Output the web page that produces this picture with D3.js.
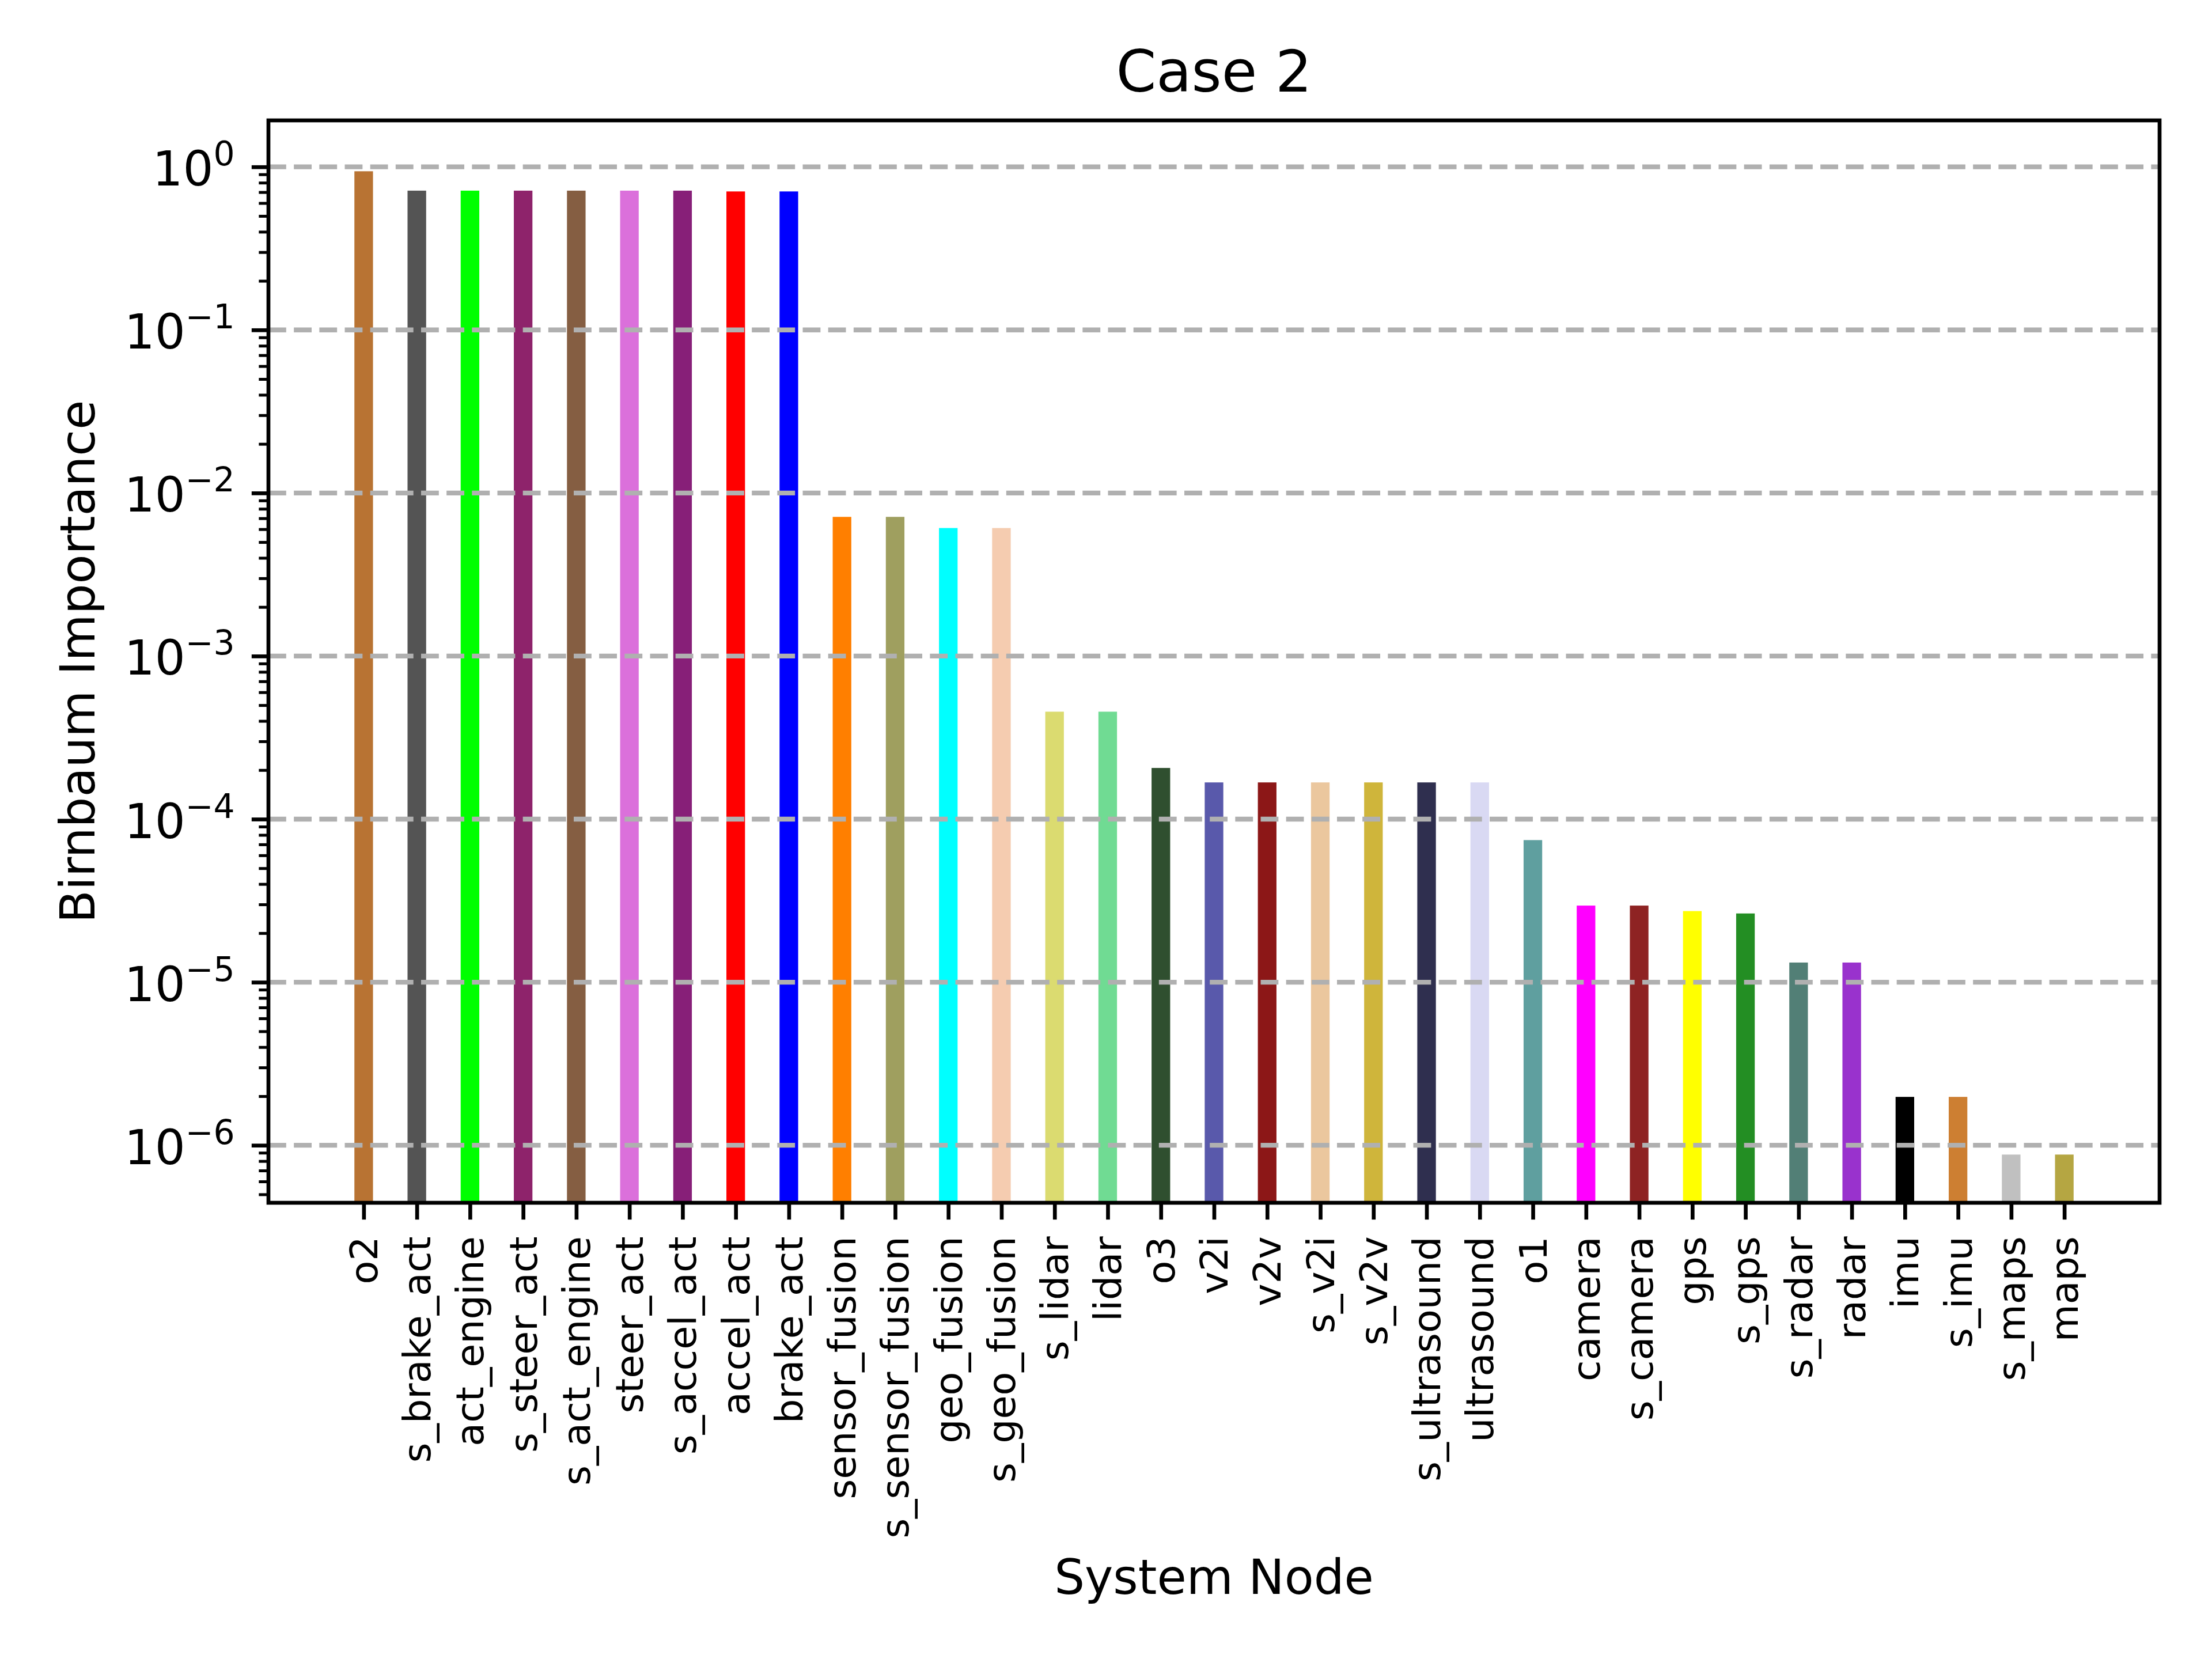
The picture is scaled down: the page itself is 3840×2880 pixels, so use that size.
<!DOCTYPE html>
<html>
<head>
<meta charset="utf-8">
<script src="https://cdn.jsdelivr.net/npm/d3@7"></script>
<style>
  body { margin: 0; background: #fff; }
  text { font-family: "DejaVu Sans", sans-serif; fill: #000; }
</style>
</head>
<body>
<div id="chart"></div>
<script>
// Data
const nodes = ["o2", "s_brake_act", "act_engine", "s_steer_act", "s_act_engine", "steer_act",
  "s_accel_act", "accel_act", "brake_act", "sensor_fusion", "s_sensor_fusion", "geo_fusion",
  "s_geo_fusion", "s_lidar", "lidar", "o3", "v2i", "v2v", "s_v2i", "s_v2v", "s_ultrasound",
  "ultrasound", "o1", "camera", "s_camera", "gps", "s_gps", "s_radar", "radar", "imu", "s_imu",
  "s_maps", "maps"];

const importance = [0.94, 0.715, 0.715, 0.715, 0.715, 0.715,
  0.715, 0.707, 0.707, 7.14e-3, 7.14e-3, 6.1e-3,
  6.1e-3, 4.56e-4, 4.56e-4, 2.06e-4, 1.68e-4, 1.68e-4, 1.68e-4, 1.68e-4, 1.68e-4,
  1.68e-4, 7.44e-5, 2.95e-5, 2.95e-5, 2.73e-5, 2.64e-5, 1.32e-5, 1.32e-5, 1.98e-6, 1.98e-6,
  8.77e-7, 8.77e-7];

const barColors = ["#B87333", "#545454", "#00FF00", "#8E236B", "#855E42", "#DB70DB",
  "#871F78", "#FF0000", "#0000FF", "#FF7F00", "#9F9F5F", "#00FFFF",
  "#F5CCB0", "#DBDB70", "#70DB93", "#2F4F2F", "#5959AB", "#8C1717", "#EBC79E", "#CFB53B", "#2F2F4F",
  "#D9D9F3", "#5F9F9F", "#FF00FF", "#8E2323", "#FFFF00", "#238E23", "#527F76", "#9932CD", "#000000", "#CD7F32",
  "#C0C0C0", "#B5A642"];

const yTickExps = [0, -1, -2, -3, -4, -5, -6];

const title = "Case 2";
const xLabel = "System Node";
const yLabel = "Birnbaum Importance";

// layout (pixels, 600 dpi figure)
const W = 3840, H = 2880;
const plot = { left: 466, right: 3749, top: 209, bottom: 2088 };
const pt = 600 / 72;

const svg = d3.select("#chart")
  .append("svg")
  .attr("width", W)
  .attr("height", H)
  .style("display", "block");

svg.append("rect").attr("width", W).attr("height", H).attr("fill", "#fff");

const x = d3.scalePoint()
  .domain(nodes)
  .range([plot.left, plot.right])
  .padding(1.7925);

const y = d3.scaleLog()
  .domain([4.44e-7, 1.928])
  .range([plot.bottom, plot.top]);

const barW = 0.35 * x.step();

// bars
svg.append("g")
  .selectAll("rect")
  .data(nodes)
  .enter()
  .append("rect")
  .attr("x", (d) => x(d) - barW / 2)
  .attr("y", (d, i) => y(importance[i]))
  .attr("width", barW)
  .attr("height", (d, i) => plot.bottom - y(importance[i]))
  .attr("fill", (d, i) => barColors[i]);

// horizontal grid at major ticks, drawn over the bars
svg.append("g")
  .selectAll("line")
  .data(yTickExps)
  .enter()
  .append("line")
  .attr("x1", plot.left)
  .attr("x2", plot.right)
  .attr("y1", (e) => y(Math.pow(10, e)))
  .attr("y2", (e) => y(Math.pow(10, e)))
  .attr("stroke", "#b0b0b0")
  .attr("stroke-width", 1 * pt)
  .attr("stroke-dasharray", `${3.7 * pt},${1.6 * pt}`);

// minor ticks for log axis
const minorTicks = [];
for (let e = -7; e <= 0; e++) {
  for (let m = 2; m <= 9; m++) {
    const v = m * Math.pow(10, e);
    if (v >= y.domain()[0] && v <= y.domain()[1]) minorTicks.push(v);
  }
}

const yMinor = svg.append("g")
  .attr("transform", `translate(${plot.left},0)`)
  .call(d3.axisLeft(y).tickValues(minorTicks).tickSize(2 * pt).tickFormat(""));
yMinor.select(".domain").remove();
yMinor.selectAll("line").attr("stroke", "#000").attr("stroke-width", 0.6 * pt);

// major y ticks
const yAxis = svg.append("g")
  .attr("transform", `translate(${plot.left},0)`)
  .call(d3.axisLeft(y)
    .tickValues(yTickExps.map((e) => Math.pow(10, e)))
    .tickSize(3.5 * pt)
    .tickPadding(3.5 * pt)
    .tickFormat(""));
yAxis.select(".domain").remove();
yAxis.selectAll("line").attr("stroke", "#000").attr("stroke-width", 0.8 * pt);

yAxis.selectAll(".tick").each(function (d) {
  const e = Math.round(Math.log10(d));
  const t = d3.select(this).select("text")
    .attr("x", -7 * pt)
    .attr("y", 32)
    .attr("dy", null)
    .attr("text-anchor", "end")
    .style("font-size", `${10 * pt}px`)
    .style("font-family", "DejaVu Sans");
  t.append("tspan").text("10");
  t.append("tspan")
    .attr("dy", -35)
    .style("font-size", `${7 * pt}px`)
    .text(e === 0 ? "0" : "\u2212" + Math.abs(e));
});

// x ticks
const xAxis = svg.append("g")
  .attr("transform", `translate(0,${plot.bottom})`)
  .call(d3.axisBottom(x).tickSize(3.5 * pt).tickPadding(0));
xAxis.select(".domain").remove();
xAxis.selectAll("line").attr("stroke", "#000").attr("stroke-width", 0.8 * pt);
xAxis.selectAll("text")
  .attr("y", null)
  .attr("dy", null)
  .attr("transform", `translate(0,${7 * pt}) rotate(-90)`)
  .attr("text-anchor", "end")
  .attr("dominant-baseline", "central")
  .style("font-size", `${8 * pt}px`)
  .style("font-family", "DejaVu Sans");

// axes frame
svg.append("rect")
  .attr("x", plot.left)
  .attr("y", plot.top)
  .attr("width", plot.right - plot.left)
  .attr("height", plot.bottom - plot.top)
  .attr("fill", "none")
  .attr("stroke", "#000")
  .attr("stroke-width", 0.8 * pt);

// title and labels
const cx = (plot.left + plot.right) / 2;
svg.append("text")
  .attr("x", cx)
  .attr("y", 159)
  .attr("text-anchor", "middle")
  .style("font-size", `${12 * pt}px`)
  .text(title);

svg.append("text")
  .attr("x", cx)
  .attr("y", 2767)
  .attr("text-anchor", "middle")
  .style("font-size", `${10 * pt}px`)
  .text(xLabel);

svg.append("text")
  .attr("transform", `translate(164,${(plot.top + plot.bottom) / 2}) rotate(-90)`)
  .attr("text-anchor", "middle")
  .style("font-size", `${10 * pt}px`)
  .text(yLabel);
</script>
</body>
</html>
